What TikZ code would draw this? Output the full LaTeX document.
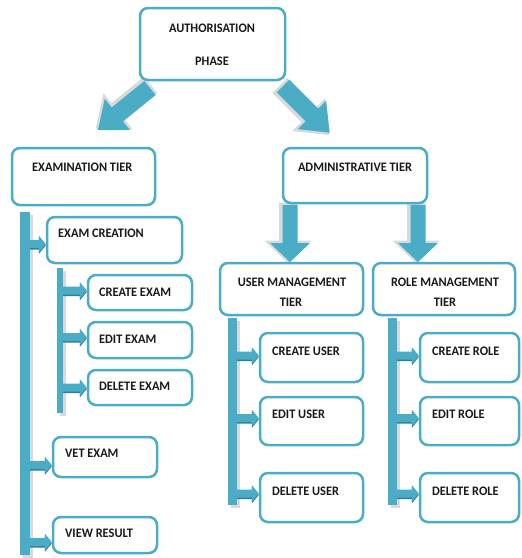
\documentclass[tikz,border=0pt]{standalone}
\usepackage{fontspec}
\setmainfont{Carlito}
\usetikzlibrary{calc,shadows}
\definecolor{acc}{HTML}{4BACC6}
\definecolor{accd}{HTML}{2F7F96}
\definecolor{shd}{HTML}{D6DADC}
\tikzset{
 pics/barrow/.style n args={4}{code={
  \filldraw[shd, line width=3pt, line join=miter, shift={(-1,2)}] (0,-#2)--(#1-#4,-#2)--(#1-#4,-#3)--(#1,0)--(#1-#4,#3)--(#1-#4,#2)--(0,#2)--cycle;
  \fill[acc] (0,-#2)--(#1-#4,-#2)--(#1-#4,-#3)--(#1,0)--(#1-#4,#3)--(#1-#4,#2)--(0,#2)--cycle;
 }},
 box/.style={draw=acc, line width=2.5pt, rounded corners=8pt, fill=white, inner sep=0pt},
 lbl/.style={font=\bfseries\fontsize{13}{15}\selectfont, inner sep=0pt, text=black!90, xscale=0.95},
 vbar/.style={fill=acc, inner sep=0pt, general shadow={fill=shd, shadow xshift=2.5pt, shadow yshift=-2.5pt}}
}
\newcommand\sarr[3]{%
 \fill[accd] let \p1=(#1.east), \p2=(#2.west) in
  (\x1,\y2+#3+2.5pt) -- (\x2-7pt,\y2+#3+2.5pt) -- (\x2-7pt,\y2+#3+7pt) -- (\x2,\y2+#3-1.5pt) -- (\x2-7pt,\y2+#3-10pt) -- (\x2-7pt,\y2+#3-5.5pt) -- (\x1,\y2+#3-5.5pt) -- cycle;
 \fill[acc] let \p1=(#1.east), \p2=(#2.west) in
  (\x1,\y2+#3+4pt) -- (\x2-7pt,\y2+#3+4pt) -- (\x2-7pt,\y2+#3+8.5pt) -- (\x2,\y2+#3) -- (\x2-7pt,\y2+#3-8.5pt) -- (\x2-7pt,\y2+#3-4pt) -- (\x1,\y2+#3-4pt) -- cycle;
}
\begin{document}
\begin{tikzpicture}[x=1pt,y=-1pt]
\useasboundingbox (0,0) rectangle (522,558);
% big arrows
\pic[rotate=219] at (150,88) {barrow={67}{9}{20}{25}};
\pic[rotate=-45] at (283,86) {barrow={66}{9}{20}{25}};
\pic[rotate=-90] at (290,205) {barrow={57}{7.5}{20}{19}};
\pic[rotate=-90] at (418,205) {barrow={57}{7.5}{20}{19}};
% boxes
\node[box, minimum width=145pt, minimum height=72pt] (auth) at (212.5,44) {};
\node[box, minimum width=143pt, minimum height=57pt] (exam) at (83.5,176.5) {};
\node[box, minimum width=144pt, minimum height=55pt] (admin) at (355,175.5) {};
\node[box, minimum width=143pt, minimum height=52pt] (umt) at (291.5,289) {};
\node[box, minimum width=142pt, minimum height=52pt] (rmt) at (444,289) {};
\node[box, minimum width=103pt, minimum height=49pt] (cu) at (311.5,357.5) {};
\node[box, minimum width=103pt, minimum height=48pt] (eu) at (311.5,421) {};
\node[box, minimum width=103pt, minimum height=49pt] (du) at (311.5,497.5) {};
\node[box, minimum width=99pt, minimum height=49pt] (cr) at (469.5,357.5) {};
\node[box, minimum width=99pt, minimum height=48pt] (er) at (469.5,421) {};
\node[box, minimum width=99pt, minimum height=49pt] (dr) at (469.5,497.5) {};
\node[box, minimum width=135pt, minimum height=46pt] (ec) at (114.5,240) {};
\node[box, minimum width=104pt, minimum height=35pt] (ce) at (140,292.5) {};
\node[box, minimum width=104pt, minimum height=36pt] (ee) at (140,340) {};
\node[box, minimum width=104pt, minimum height=35pt] (de) at (140,387.5) {};
\node[box, minimum width=104pt, minimum height=40pt] (ve) at (105,457) {};
\node[box, minimum width=104pt, minimum height=36pt] (vr) at (105,535) {};
% bars
\node[vbar, minimum width=10pt, minimum height=343pt] (mbar) at (25,383.5) {};
\node[vbar, minimum width=6pt, minimum height=145pt] (sbar) at (60,340.5) {};
\node[vbar, minimum width=9pt, minimum height=187pt] (ubar) at (232.5,411.5) {};
\node[vbar, minimum width=9pt, minimum height=187pt] (rbar) at (392.5,411.5) {};
% small arrows
\sarr{mbar}{ec}{-4pt}
\sarr{mbar}{ve}{-8pt}
\sarr{mbar}{vr}{-7pt}
\sarr{sbar}{ce}{2pt}
\sarr{sbar}{ee}{3pt}
\sarr{sbar}{de}{0pt}
\sarr{ubar}{cu}{2pt}
\sarr{ubar}{eu}{3pt}
\sarr{ubar}{du}{4pt}
\sarr{rbar}{cr}{2pt}
\sarr{rbar}{er}{3pt}
\sarr{rbar}{dr}{4pt}
% labels
\node[lbl] (t1) at (212,28) {AUTHORISATION};
\node[lbl] (t2) at (212,61) {PHASE};
\node[lbl, anchor=west] (t3) at (32,167) {EXAMINATION TIER};
\node[lbl] (t4) at (355,167) {ADMINISTRATIVE TIER};
\node[lbl] (t5) at (292,282) {USER MANAGEMENT};
\node[lbl] (t6) at (291,302) {TIER};
\node[lbl] (t7) at (445,282) {ROLE MANAGEMENT};
\node[lbl] (t8) at (445,302) {TIER};
\node[lbl, anchor=west] (t9) at (272,351) {CREATE USER};
\node[lbl, anchor=west] (t10) at (272,414) {EDIT USER};
\node[lbl, anchor=west] (t11) at (272,491) {DELETE USER};
\node[lbl, anchor=west] (t12) at (432,351) {CREATE ROLE};
\node[lbl, anchor=west] (t13) at (432,414) {EDIT ROLE};
\node[lbl, anchor=west] (t14) at (432,491) {DELETE ROLE};
\node[lbl, anchor=west] (t15) at (58,233) {EXAM CREATION};
\node[lbl, anchor=west] (t16) at (99,292) {CREATE EXAM};
\node[lbl, anchor=west] (t17) at (99,339) {EDIT EXAM};
\node[lbl, anchor=west] (t18) at (99,386) {DELETE EXAM};
\node[lbl, anchor=west] (t19) at (65,453) {VET EXAM};
\node[lbl, anchor=west] (t20) at (65,533) {VIEW RESULT};
\end{tikzpicture}
\end{document}
